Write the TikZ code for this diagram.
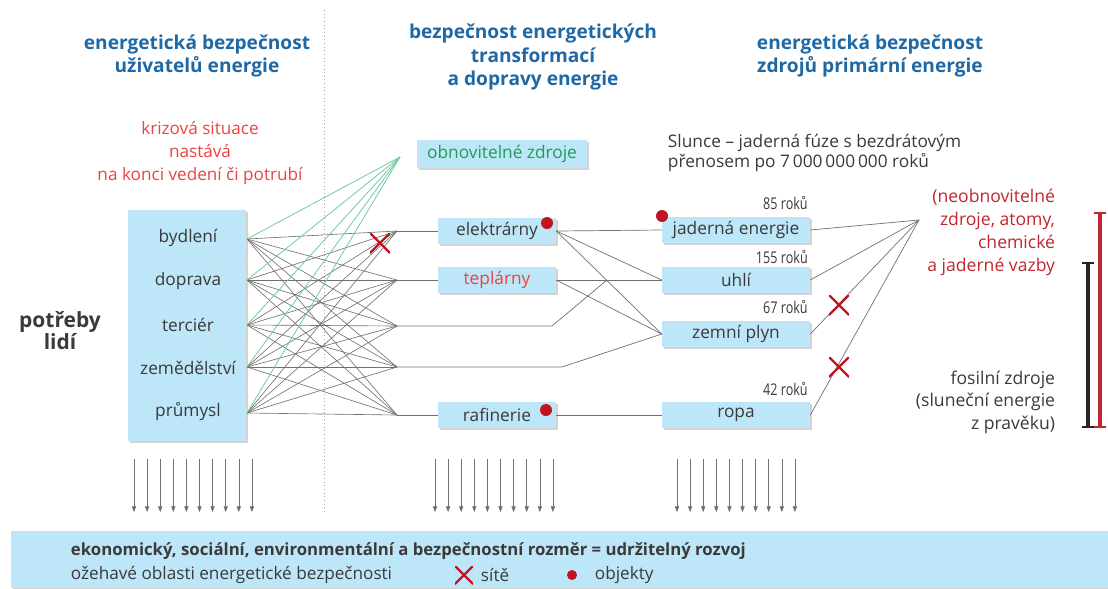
\documentclass[tikz,border=0pt]{standalone}
\usepackage{fontspec}
\setmainfont{Open Sans}
\newfontfamily\narrowfont[FakeStretch=0.78]{Open Sans}
\usetikzlibrary{shadows, arrows.meta, positioning, calc}

\definecolor{boxblue}{HTML}{BDE6F8}
\definecolor{headblue}{HTML}{1E68A6}
\definecolor{alertred}{HTML}{EA4340}
\definecolor{darkred}{HTML}{C0262D}
\definecolor{greentext}{HTML}{1E9E55}
\definecolor{greenline}{HTML}{6CC9A0}
\definecolor{textgray}{HTML}{3A3A3A}
\definecolor{meshgray}{HTML}{707070}
\definecolor{dotred}{HTML}{C0141E}

\begin{document}
\begin{tikzpicture}[
    x=0.025cm, y=-0.025cm,
    shadowed/.style={drop shadow={opacity=0.35, shadow xshift=1.6pt, shadow yshift=-1.6pt}},
    sector/.style={fill=boxblue, shadowed, minimum width=2.95cm, minimum height=0.66cm, inner sep=0pt, font=\fontsize{12.3}{14}\selectfont, text=textgray},
    source/.style={sector, minimum width=3.7cm},
    itemtext/.style={font=\fontsize{12.3}{14}\selectfont, text=textgray},
    heading/.style={align=center, text=headblue, font=\fontsize{13.6}{16.5}\selectfont\bfseries},
    note/.style={align=center, font=\fontsize{12.2}{16.5}\selectfont},
    years/.style={anchor=base east, inner sep=0pt, font=\narrowfont\fontsize{11.5}{12}\selectfont, text=textgray},
    mesh/.style={draw=meshgray, line width=0.45pt},
    link/.style={draw=meshgray, line width=0.5pt},
    greenlink/.style={draw=greenline, line width=0.55pt},
    objdot/.style={circle, fill=dotred, minimum size=0.3cm, inner sep=0pt},
    netcross/.style={minimum size=0.5cm, inner sep=0pt, path picture={
        \draw[dotred, line width=1.6pt]
            (path picture bounding box.north west) -- (path picture bounding box.south east)
            (path picture bounding box.north east) -- (path picture bounding box.south west);}},
    down/.style={draw=meshgray, line width=0.4pt, -{Triangle[length=4pt, width=3pt]}}
]
    \useasboundingbox (0,0) rectangle (1108,588);

    % ================= HEADINGS =================
    \node[heading] (users) at (197,56) {energetická bezpečnost\\uživatelů energie};
    \node[heading] (transform) at (533,57) {bezpečnost energetických\\transformací\\a dopravy energie};
    \node[heading] (primary) at (870,56) {energetická bezpečnost\\zdrojů primární energie};

    \draw[dotted, gray!70, line width=0.6pt] (324,10) -- (324,512);

    \node[note, text=alertred] (crisis) at (200,153) {krizová situace\\nastává\\na konci vedení či potrubí};
    \node[align=center, text=textgray, font=\fontsize{14.9}{15.6}\selectfont\bfseries] (needs) at (60,331) {potřeby\\lidí};

    % ================= USERS =================
    \node[fill=boxblue, shadowed, minimum width=2.95cm, minimum height=5.78cm] (block) at (187,325.5) {};
    \foreach \y in {258,303,346,391}
        \draw[white!75!gray, dotted, line width=0.5pt] (131,\y) -- (243,\y);
    \node[itemtext] (bydleni) at (188,238) {bydlení};
    \node[itemtext] (doprava) at (188,281) {doprava};
    \node[itemtext] (tercier) at (188,325) {terciér};
    \node[itemtext] (zemedelstvi) at (188,368) {zemědělství};
    \node[itemtext] (prumysl) at (188,412) {průmysl};

    \foreach \y [count=\i] in {239,280,325,367,413}
        \coordinate (u\i) at (247,\y);
    \foreach \y [count=\i] in {231,280,326,367,415}
        \coordinate (t\i) at (397,\y);

    % full mesh between users and transport
    \foreach \i in {1,...,5}
        \foreach \j in {1,...,5}
            \draw[mesh] (u\i) -- (t\j);

    % renewable sources
    \node[sector, minimum width=4.25cm, minimum height=0.7cm, text=greentext] (renew) at (502,154) {obnovitelné zdroje};
    \coordinate (renewpt) at (400,157);
    \foreach \i in {1,...,5}
        \draw[greenlink] (u\i) -- (renewpt);

    % ================= TRANSFORMATIONS =================
    \node[sector] (elektrarny) at (497,231) {elektrárny};
    \node[sector, text=alertred] (teplarny) at (497,280) {teplárny};
    \node[sector] (rafinerie) at (497,415) {rafinerie};

    \coordinate (bend3) at (552,326);
    \coordinate (merge3) at (607,280);
    \coordinate (bend4) at (562,367);

    \draw[link] (t1) -- (elektrarny.west);
    \draw[link] (t2) -- (teplarny.west);
    \draw[link] (t5) -- (rafinerie.west);

    % ================= PRIMARY SOURCES =================
    \node[source] (jaderna) at (736,230) {jaderná energie};
    \node[source] (uhli) at (736,280) {uhlí};
    \node[source] (plyn) at (736,334) {zemní plyn};
    \node[source] (ropa) at (736,415) {ropa};

    \draw[link] (elektrarny.east) -- (jaderna.west);
    \draw[link] (elektrarny.east) -- (uhli.west);
    \draw[link] (elektrarny.east) -- (plyn.west);
    \draw[link] (teplarny.east) -- (uhli.west);
    \draw[link] (teplarny.east) -- (plyn.west);
    \draw[link] (t3) -- (bend3) -- (merge3);
    \draw[link] (t4) -- (bend4) -- (plyn.west);
    \draw[link] (rafinerie.east) -- (ropa.west);

    \coordinate (origin) at (919,220);
    \foreach \n in {jaderna, uhli, plyn, ropa}
        \draw[link] (\n.east) -- (origin);

    \node[years] (y85) at (808,209) {85 roků};
    \node[years] (y155) at (808,263) {155 roků};
    \node[years] (y67) at (808,313) {67 roků};
    \node[years] (y42) at (808,395) {42 roků};

    \node[align=left, anchor=west, text=textgray, font=\fontsize{12.3}{14.5}\selectfont] (sun) at (663,153) {Slunce – jaderná fúze s bezdrátovým\\přenosem po 7\,000\,000\,000 roků};

    % ================= HOT SPOTS =================
    \node[objdot] (dotE) at (547,223) {};
    \node[objdot] (dotR) at (546,410) {};
    \node[objdot] (dotJ) at (662,216) {};
    \node[netcross] (crossM) at (380,243) {};
    \node[netcross] (crossP) at (839,305) {};
    \node[netcross] (crossR) at (839,367) {};

    % ================= RIGHT LEGEND =================
    \node[align=right, anchor=east, text=darkred, font=\fontsize{12.5}{16.3}\selectfont] (nonrenew) at (1060,232) {(neobnovitelné\\zdroje, atomy,\\chemické\\a jaderné vazby};
    \node[align=right, anchor=east, text=textgray, font=\fontsize{12.5}{16}\selectfont] (fossil) at (1060,402) {fosilní zdroje\\(sluneční energie\\z pravěku)};

    \draw[black!85, line width=2.6pt] (1088,263) -- (1088,427);
    \draw[black!85, line width=1.4pt] (1082,263) -- (1094,263) (1082,427) -- (1094,427);
    \draw[darkred, line width=2.6pt] (1100,213) -- (1100,427);
    \draw[darkred, line width=1.4pt] (1094,213) -- (1106,213) (1094,427) -- (1106,427);

    % ================= DOWNWARD ARROWS =================
    \foreach \s in {134,435,677}
        \foreach \k in {0,...,9}
            \draw[down] (\s+\k*13.1,459) -- (\s+\k*13.1,512);

    % ================= BOTTOM BAND =================
    \fill[boxblue, shadowed] (11,531) rectangle (1108,588);
    \node[anchor=west, text=textgray, font=\fontsize{11.9}{13}\selectfont\bfseries] (sustain) at (66,551) {ekonomický, sociální, environmentální a bezpečnostní rozměr = udržitelný rozvoj};
    \node[anchor=west, text=textgray, font=\fontsize{12.2}{13}\selectfont] (hot) at (66,575) {ožehavé oblasti energetické bezpečnosti};
    \node[netcross, minimum size=0.45cm] (legX) at (464,575) {};
    \node[anchor=west, text=textgray, font=\fontsize{12.2}{13}\selectfont] (legnet) at (476,575) {sítě};
    \node[objdot, minimum size=0.25cm] (legdot) at (572,575) {};
    \node[anchor=west, text=textgray, font=\fontsize{12.2}{13}\selectfont] (legobj) at (590,575) {objekty};
\end{tikzpicture}
\end{document}
